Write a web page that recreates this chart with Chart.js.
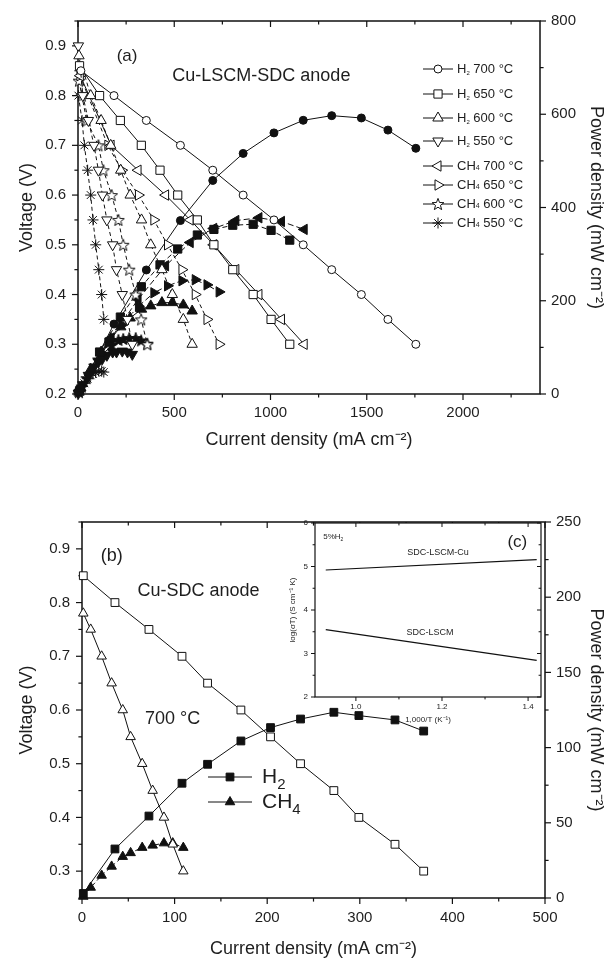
<!DOCTYPE html>
<html>
<head>
<meta charset="utf-8">
<script src="https://cdn.jsdelivr.net/npm/chart.js@4.4.1/dist/chart.umd.min.js"></script>
<style>
  html, body { margin: 0; padding: 0; background: #fff; }
  .panel { position: absolute; }
</style>
</head>
<body>
<canvas id="chart-a" class="panel" width="609" height="455" style="left:0;top:0"></canvas>
<canvas id="chart-b" class="panel" width="609" height="480" style="left:0;top:480px"></canvas>
<canvas id="chart-c" class="panel" width="290" height="230" style="left:270px;top:505px"></canvas>
<script>
// ---- panel (a): Cu-LSCM-SDC anode, current (mA cm-2) / voltage (V) / power (mW cm-2)
const curH2_700 = [15, 187, 355, 532, 700, 858, 1018, 1170, 1318, 1472, 1610, 1755];
const voltH2_700 = [0.85, 0.80, 0.75, 0.70, 0.65, 0.60, 0.55, 0.50, 0.45, 0.40, 0.35, 0.30];
const powH2_700 = [13, 150, 266, 372, 458, 516, 560, 587, 597, 592, 566, 527];

const curH2_650 = [8, 112, 220, 329, 426, 518, 620, 706, 804, 910, 1003, 1100];
const voltH2_650 = [0.86, 0.80, 0.75, 0.70, 0.65, 0.60, 0.55, 0.50, 0.45, 0.40, 0.35, 0.30];
const powH2_650 = [7, 90, 165, 230, 277, 311, 341, 353, 362, 364, 351, 330];

const curH2_600 = [5, 66, 120, 170, 222, 271, 330, 378, 436, 490, 547, 593];
const voltH2_600 = [0.88, 0.80, 0.75, 0.70, 0.65, 0.60, 0.55, 0.50, 0.45, 0.40, 0.35, 0.30];
const powH2_600 = [4, 53, 90, 119, 144, 163, 182, 189, 196, 196, 191, 178];

const curH2_550 = [2, 25, 54, 83, 106, 127, 150, 180, 200, 230, 257, 282];
const voltH2_550 = [0.90, 0.80, 0.75, 0.70, 0.65, 0.60, 0.55, 0.50, 0.45, 0.40, 0.35, 0.30];
const powH2_550 = [2, 20, 40, 58, 69, 76, 83, 90, 90, 92, 90, 85];

const curCH4_700 = [12, 172, 312, 455, 583, 705, 820, 940, 1057, 1175];
const voltCH4_700 = [0.84, 0.70, 0.65, 0.60, 0.55, 0.50, 0.45, 0.40, 0.35, 0.30];
const powCH4_700 = [10, 120, 203, 275, 325, 355, 372, 378, 370, 353];

const curCH4_650 = [10, 155, 227, 314, 394, 465, 540, 609, 670, 733];
const voltCH4_650 = [0.84, 0.70, 0.65, 0.60, 0.55, 0.50, 0.45, 0.40, 0.35, 0.30];
const powCH4_650 = [8, 109, 148, 188, 217, 232, 243, 245, 234, 219];

const curCH4_600 = [5, 20, 45, 106, 132, 175, 210, 235, 266, 300, 328, 360];
const voltCH4_600 = [0.83, 0.80, 0.75, 0.70, 0.65, 0.60, 0.55, 0.50, 0.45, 0.40, 0.35, 0.30];
const powCH4_600 = [4, 16, 34, 74, 86, 105, 116, 118, 120, 120, 115, 108];

const curCH4_550 = [2, 21, 33, 50, 66, 78, 92, 108, 123, 134];
const voltCH4_550 = [0.80, 0.75, 0.70, 0.65, 0.60, 0.55, 0.50, 0.45, 0.40, 0.35];
const powCH4_550 = [2, 16, 23, 33, 40, 43, 46, 49, 49, 47];

const ticksA_cur = [0, 500, 1000, 1500, 2000];
const ticksA_volt = [0.2, 0.3, 0.4, 0.5, 0.6, 0.7, 0.8, 0.9];
const ticksA_pow = [0, 200, 400, 600, 800];

// ---- panel (b): Cu-SDC anode at 700 C
const curB_H2 = [1.4, 35.6, 72.3, 108, 135.6, 171.6, 203.6, 236, 272, 299, 338, 369];
const voltB_H2 = [0.85, 0.80, 0.75, 0.70, 0.65, 0.60, 0.55, 0.50, 0.45, 0.40, 0.35, 0.30];
const powB_H2 = [3, 32.6, 54.5, 76.3, 88.9, 104.4, 113.3, 119, 123.5, 121.3, 118.4, 111];

const curB_CH4 = [1.4, 9.4, 21.2, 32, 44, 52.5, 65, 76.3, 88.5, 98, 109.4];
const voltB_CH4 = [0.78, 0.75, 0.70, 0.65, 0.60, 0.55, 0.50, 0.45, 0.40, 0.35, 0.30];
const powB_CH4 = [1, 7, 15, 21, 27.5, 30, 33.5, 35, 36.5, 36.5, 33.5];

const ticksB_cur = [0, 100, 200, 300, 400, 500];
const ticksB_volt = [0.3, 0.4, 0.5, 0.6, 0.7, 0.8, 0.9];
const ticksB_pow = [0, 50, 100, 150, 200, 250];

// ---- inset (c): conductivity in 5% H2
const invT = [0.93, 1.42];
const logSigmaCu = [4.92, 5.16];
const logSigmaLSCM = [3.55, 2.84];
const ticksC_invT = [1.0, 1.2, 1.4];
const ticksC_log = [2, 3, 4, 5, 6];

const LINE = '#111';
const TEXT = '#1e1e1e';
const FONT = "'Liberation Sans', Arial, sans-serif";

function pts(xs, ys) {
    return xs.map((x, i) => ({ x: x, y: ys[i] }));
}

// five-pointed star marker (Chart.js only has an asterisk 'star')
function makeStar(filled) {
    const c = document.createElement('canvas');
    c.width = 14;
    c.height = 14;
    const g = c.getContext('2d');
    g.beginPath();
    for (let i = 0; i < 10; i++) {
        const r = i % 2 ? 2.6 : 6.2;
        const ang = -Math.PI / 2 + i * Math.PI / 5;
        const px = 7 + r * Math.cos(ang), py = 7.6 + r * Math.sin(ang);
        if (i) g.lineTo(px, py); else g.moveTo(px, py);
    }
    g.closePath();
    g.fillStyle = filled ? LINE : '#fff';
    g.fill();
    g.lineWidth = 1;
    g.strokeStyle = LINE;
    g.stroke();
    return c;
}
const starOpen = makeStar(false);
const starFull = makeStar(true);

function series(label, xs, ys, opt) {
    return Object.assign({
        label: label,
        data: pts(xs, ys),
        showLine: true,
        borderColor: LINE,
        borderWidth: 1,
        pointBorderColor: LINE,
        pointBorderWidth: 1,
        pointBackgroundColor: '#fff',
        pointRadius: 4,
        clip: false
    }, opt);
}

// frame + major/minor tick marks, drawn from the chart's scales
function drawMarks(chart, m) {
    const ctx = chart.ctx, a = chart.chartArea, s = chart.scales[m.scale];
    const out = m.dir === 'out' ? 1 : -1;
    const n0 = Math.ceil(s.min / m.minor - 1e-6), n1 = Math.floor(s.max / m.minor + 1e-6);
    for (let i = n0; i <= n1; i++) {
        const v = i * m.minor;
        const r = v / m.major;
        const len = Math.abs(r - Math.round(r)) < 1e-6 ? m.len : m.len * 0.6;
        const p = s.getPixelForValue(v);
        ctx.beginPath();
        switch (m.side) {
            case 'bottom': ctx.moveTo(p, a.bottom); ctx.lineTo(p, a.bottom + out * len); break;
            case 'top': ctx.moveTo(p, a.top); ctx.lineTo(p, a.top - out * len); break;
            case 'left': ctx.moveTo(a.left, p); ctx.lineTo(a.left - out * len, p); break;
            case 'right': ctx.moveTo(a.right, p); ctx.lineTo(a.right + out * len, p); break;
        }
        ctx.stroke();
    }
}

const frameTicks = {
    id: 'frameTicks',
    beforeDatasetsDraw(chart, args, opts) {
        const { ctx, chartArea: a } = chart;
        ctx.save();
        if (opts.fill) {
            ctx.fillStyle = opts.fill;
            ctx.fillRect(a.left, a.top, a.right - a.left, a.bottom - a.top);
        }
        ctx.strokeStyle = LINE;
        ctx.lineWidth = opts.tickWidth || 1.2;
        (opts.marks || []).forEach(m => drawMarks(chart, m));
        ctx.lineWidth = opts.frameWidth || 1.5;
        ctx.strokeRect(a.left, a.top, a.right - a.left, a.bottom - a.top);
        ctx.restore();
    }
};

// text made of parts: [text, size, dy]
function drawRich(ctx, x, y, parts, align) {
    let w = 0;
    parts.forEach(p => { ctx.font = p[1] + 'px ' + FONT; w += ctx.measureText(p[0]).width; });
    let cx = align === 'center' ? x - w / 2 : x;
    parts.forEach(p => {
        ctx.font = p[1] + 'px ' + FONT;
        ctx.fillText(p[0], cx, y + (p[2] || 0));
        cx += ctx.measureText(p[0]).width;
    });
}

const notes = {
    id: 'notes',
    afterDatasetsDraw(chart, args, opts) {
        const ctx = chart.ctx, a = chart.chartArea;
        ctx.save();
        ctx.textBaseline = 'middle';
        ctx.textAlign = 'left';
        (opts.items || []).forEach(it => {
            const x = chart.scales.x.getPixelForValue(it.x);
            const y = chart.scales.y.getPixelForValue(it.y);
            ctx.fillStyle = TEXT;
            drawRich(ctx, x, y, it.parts, it.align);
        });
        (opts.keys || []).forEach(k => {
            const ds = chart.data.datasets[k.ds];
            const x0 = a.left + k.px, y = a.top + k.py;
            ctx.strokeStyle = LINE;
            ctx.lineWidth = 1;
            ctx.setLineDash([]);
            ctx.beginPath();
            ctx.moveTo(x0, y);
            ctx.lineTo(x0 + k.len, y);
            ctx.stroke();
            ctx.fillStyle = ds.pointBackgroundColor;
            Chart.helpers.drawPoint(ctx, {
                pointStyle: ds.pointStyle,
                rotation: ds.pointRotation || 0,
                radius: ds.pointRadius,
                borderWidth: 1
            }, x0 + k.len / 2, y);
            ctx.fillStyle = TEXT;
            drawRich(ctx, x0 + k.len + k.gap, y, k.parts, 'left');
        });
        ctx.restore();
    }
};

function fixedTicks(values) {
    return s => { s.ticks = values.map(v => ({ value: v })); };
}

function axis(opt) {
    return Object.assign({
        type: 'linear',
        grid: { display: false, drawTicks: false },
        border: { display: false }
    }, opt);
}

const tickFont = { family: FONT, size: 15 };
const titleFont = { family: FONT, size: 18 };
const oneDecimal = v => Number(v).toFixed(1);
const plain = v => String(v);

// ================= panel (a)
const dashV = [4, 3];
const datasetsA = [
    series('H2 700', curH2_700, voltH2_700, { pointStyle: 'circle', pointRadius: 4 }),
    series('H2 650', curH2_650, voltH2_650, { pointStyle: 'rect', pointRadius: 5.8 }),
    series('H2 600', curH2_600, voltH2_600, { pointStyle: 'triangle', pointRadius: 6, borderDash: dashV }),
    series('H2 550', curH2_550, voltH2_550, { pointStyle: 'triangle', pointRotation: 180, pointRadius: 6, borderDash: dashV }),
    series('CH4 700', curCH4_700, voltCH4_700, { pointStyle: 'triangle', pointRotation: 270, pointRadius: 6 }),
    series('CH4 650', curCH4_650, voltCH4_650, { pointStyle: 'triangle', pointRotation: 90, pointRadius: 6, borderDash: dashV }),
    series('CH4 600', curCH4_600, voltCH4_600, { pointStyle: starOpen, borderDash: dashV }),
    series('CH4 550', curCH4_550, voltCH4_550, { pointStyle: 'star', pointRadius: 5.5, borderDash: dashV }),

    series('P H2 700', curH2_700, powH2_700, { yAxisID: 'y2', pointStyle: 'circle', pointRadius: 4, pointBackgroundColor: LINE }),
    series('P H2 650', curH2_650, powH2_650, { yAxisID: 'y2', pointStyle: 'rect', pointRadius: 5.8, pointBackgroundColor: LINE, borderDash: [5, 3] }),
    series('P H2 600', curH2_600, powH2_600, { yAxisID: 'y2', pointStyle: 'triangle', pointRadius: 6, pointBackgroundColor: LINE }),
    series('P H2 550', curH2_550, powH2_550, { yAxisID: 'y2', pointStyle: 'triangle', pointRotation: 180, pointRadius: 6, pointBackgroundColor: LINE }),
    series('P CH4 700', curCH4_700, powCH4_700, { yAxisID: 'y2', pointStyle: 'triangle', pointRotation: 270, pointRadius: 6, pointBackgroundColor: LINE, borderDash: [6, 3] }),
    series('P CH4 650', curCH4_650, powCH4_650, { yAxisID: 'y2', pointStyle: 'triangle', pointRotation: 90, pointRadius: 6, pointBackgroundColor: LINE, borderDash: [6, 3, 2, 3] }),
    series('P CH4 600', curCH4_600, powCH4_600, { yAxisID: 'y2', pointStyle: starFull }),
    series('P CH4 550', curCH4_550, powCH4_550, { yAxisID: 'y2', pointStyle: 'star', pointRadius: 5.5 })
];

const legendA = [
    { ds: 0, py: 48, parts: [['H', 13], ['2', 6, 4], [' 700 °C', 13]] },
    { ds: 1, py: 73, parts: [['H', 13], ['2', 6, 4], [' 650 °C', 13]] },
    { ds: 2, py: 97, parts: [['H', 13], ['2', 6, 4], [' 600 °C', 13]] },
    { ds: 3, py: 120, parts: [['H', 13], ['2', 6, 4], [' 550 °C', 13]] },
    { ds: 4, py: 145, parts: [['CH', 13], ['4', 7, 2], [' 700 °C', 13]] },
    { ds: 5, py: 164, parts: [['CH', 13], ['4', 7, 2], [' 650 °C', 13]] },
    { ds: 6, py: 183, parts: [['CH', 13], ['4', 7, 2], [' 600 °C', 13]] },
    { ds: 7, py: 202, parts: [['CH', 13], ['4', 7, 2], [' 550 °C', 13]] }
].map(k => Object.assign({ px: 345, len: 30, gap: 4 }, k));

new Chart(document.getElementById('chart-a'), {
    type: 'scatter',
    data: { datasets: datasetsA },
    plugins: [frameTicks, notes],
    options: {
        responsive: false,
        animation: false,
        layout: { padding: { top: 18, left: 0, right: 0, bottom: 0 } },
        scales: {
            x: axis({
                position: 'bottom', min: 0, max: 2400,
                afterBuildTicks: fixedTicks(ticksA_cur),
                ticks: { autoSkip: false, maxRotation: 0, padding: 10, color: TEXT, font: tickFont, callback: plain },
                title: { display: true, text: 'Current density (mA cm⁻²)', color: TEXT, font: titleFont, padding: { top: 0, bottom: 4 } },
                afterFit: s => { s.height = 61; }
            }),
            y: axis({
                position: 'left', min: 0.2, max: 0.95,
                afterBuildTicks: fixedTicks(ticksA_volt),
                ticks: { autoSkip: false, padding: 12, color: TEXT, font: tickFont, callback: oneDecimal },
                title: { display: true, text: 'Voltage (V)', color: TEXT, font: titleFont, padding: { top: 16, bottom: 0 } },
                afterFit: s => { s.width = 78; }
            }),
            y2: axis({
                position: 'right', min: 0, max: 800,
                afterBuildTicks: fixedTicks(ticksA_pow),
                ticks: { autoSkip: false, padding: 11, color: TEXT, font: tickFont, callback: plain },
                title: { display: true, text: 'Power density (mW cm⁻²)', color: TEXT, font: titleFont, padding: { top: 2, bottom: 0 } },
                afterFit: s => { s.width = 69; }
            })
        },
        plugins: {
            legend: { display: false },
            tooltip: { enabled: false },
            frameTicks: {
                marks: [
                    { scale: 'x', side: 'bottom', major: 500, minor: 250, dir: 'out', len: 6 },
                    { scale: 'x', side: 'top', major: 500, minor: 250, dir: 'in', len: 6 },
                    { scale: 'y', side: 'left', major: 0.1, minor: 0.05, dir: 'out', len: 6 },
                    { scale: 'y2', side: 'right', major: 200, minor: 100, dir: 'out', len: 6 }
                ]
            },
            notes: {
                items: [
                    { x: 255, y: 0.88, align: 'center', parts: [['(a)', 17]] },
                    { x: 490, y: 0.84, parts: [['Cu-LSCM-SDC anode', 18]] }
                ],
                keys: legendA
            }
        }
    }
});

// ================= panel (b)
const datasetsB = [
    series('H2', curB_H2, voltB_H2, { pointStyle: 'rect', pointRadius: 5.5 }),
    series('CH4', curB_CH4, voltB_CH4, { pointStyle: 'triangle', pointRadius: 5.5 }),
    series('H2 power', curB_H2, powB_H2, { yAxisID: 'y2', pointStyle: 'rect', pointRadius: 5.5, pointBackgroundColor: LINE }),
    series('CH4 power', curB_CH4, powB_CH4, { yAxisID: 'y2', pointStyle: 'triangle', pointRadius: 5.5, pointBackgroundColor: LINE, borderDash: [4, 3] })
];

new Chart(document.getElementById('chart-b'), {
    type: 'scatter',
    data: { datasets: datasetsB },
    plugins: [frameTicks, notes],
    options: {
        responsive: false,
        animation: false,
        layout: { padding: { top: 42, left: 0, right: 0, bottom: 0 } },
        scales: {
            x: axis({
                position: 'bottom', min: 0, max: 500,
                afterBuildTicks: fixedTicks(ticksB_cur),
                ticks: { autoSkip: false, maxRotation: 0, padding: 11, color: TEXT, font: tickFont, callback: plain },
                title: { display: true, text: 'Current density (mA cm⁻²)', color: TEXT, font: titleFont, padding: { top: 0, bottom: 0 } },
                afterFit: s => { s.height = 62; }
            }),
            y: axis({
                position: 'left', min: 0.25, max: 0.95,
                afterBuildTicks: fixedTicks(ticksB_volt),
                ticks: { autoSkip: false, padding: 12, color: TEXT, font: tickFont, callback: oneDecimal },
                title: { display: true, text: 'Voltage (V)', color: TEXT, font: titleFont, padding: { top: 16, bottom: 0 } },
                afterFit: s => { s.width = 82; }
            }),
            y2: axis({
                position: 'right', min: 0, max: 250,
                afterBuildTicks: fixedTicks(ticksB_pow),
                ticks: { autoSkip: false, padding: 11, color: TEXT, font: tickFont, callback: plain },
                title: { display: true, text: 'Power density (mW cm⁻²)', color: TEXT, font: titleFont, padding: { top: 2, bottom: 0 } },
                afterFit: s => { s.width = 64; }
            })
        },
        plugins: {
            legend: { display: false },
            tooltip: { enabled: false },
            frameTicks: {
                marks: [
                    { scale: 'x', side: 'bottom', major: 100, minor: 50, dir: 'out', len: 6 },
                    { scale: 'x', side: 'top', major: 100, minor: 50, dir: 'in', len: 6 },
                    { scale: 'y', side: 'left', major: 0.1, minor: 0.05, dir: 'out', len: 6 },
                    { scale: 'y2', side: 'right', major: 50, minor: 25, dir: 'out', len: 6 }
                ]
            },
            notes: {
                items: [
                    { x: 32, y: 0.887, align: 'center', parts: [['(b)', 18]] },
                    { x: 60, y: 0.822, parts: [['Cu-SDC anode', 18]] },
                    { x: 68, y: 0.584, parts: [['700 °C', 18]] }
                ],
                keys: [
                    { ds: 2, px: 126, py: 255, len: 44, gap: 10, parts: [['H', 21], ['2', 15, 8]] },
                    { ds: 3, px: 126, py: 280, len: 44, gap: 10, parts: [['CH', 21], ['4', 15, 8]] }
                ]
            }
        }
    }
});

// ================= inset (c)
const smallFont = { family: FONT, size: 8 };
new Chart(document.getElementById('chart-c'), {
    type: 'scatter',
    data: {
        datasets: [
            series('SDC-LSCM-Cu', invT, logSigmaCu, { pointRadius: 0, borderWidth: 1.2 }),
            series('SDC-LSCM', invT, logSigmaLSCM, { pointRadius: 0, borderWidth: 1.2 })
        ]
    },
    plugins: [frameTicks, notes],
    options: {
        responsive: false,
        animation: false,
        layout: { padding: { top: 18, right: 19, left: 0, bottom: 0 } },
        scales: {
            x: axis({
                position: 'bottom', min: 0.905, max: 1.43,
                afterBuildTicks: fixedTicks(ticksC_invT),
                ticks: { autoSkip: false, maxRotation: 0, padding: 5, color: TEXT, font: smallFont, callback: oneDecimal },
                title: { display: true, text: '1,000/T (K⁻¹)', color: TEXT, font: smallFont, padding: { top: 0, bottom: 10 } },
                afterFit: s => { s.height = 38; }
            }),
            y: axis({
                position: 'left', min: 2, max: 6,
                afterBuildTicks: fixedTicks(ticksC_log),
                ticks: { autoSkip: false, padding: 7, color: TEXT, font: smallFont, callback: plain },
                title: { display: true, text: 'log(σT) (S cm⁻¹ K)', color: TEXT, font: smallFont, padding: { top: 18, bottom: 0 } },
                afterFit: s => { s.width = 45; }
            })
        },
        plugins: {
            legend: { display: false },
            tooltip: { enabled: false },
            frameTicks: {
                fill: '#fff',
                frameWidth: 1.2,
                tickWidth: 1,
                marks: [
                    { scale: 'x', side: 'bottom', major: 0.2, minor: 0.1, dir: 'out', len: 4 },
                    { scale: 'x', side: 'top', major: 0.2, minor: 0.1, dir: 'in', len: 4 },
                    { scale: 'y', side: 'left', major: 1, minor: 0.5, dir: 'out', len: 4 },
                    { scale: 'y', side: 'right', major: 1, minor: 0.5, dir: 'in', len: 4 }
                ]
            },
            notes: {
                items: [
                    { x: 0.924, y: 5.68, parts: [['5%H', 8], ['2', 5, 3]] },
                    { x: 1.191, y: 5.33, align: 'center', parts: [['SDC-LSCM-Cu', 9]] },
                    { x: 1.172, y: 3.49, align: 'center', parts: [['SDC-LSCM', 9]] },
                    { x: 1.375, y: 5.56, align: 'center', parts: [['(c)', 17]] }
                ]
            }
        }
    }
});
</script>
</body>
</html>
